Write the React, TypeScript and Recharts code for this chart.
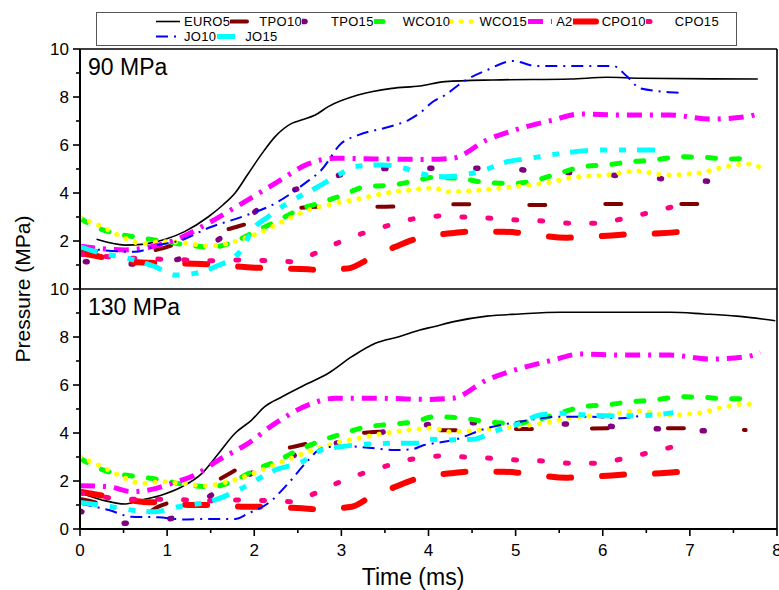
import React from 'react';
import { LineChart, Line, XAxis, YAxis, ReferenceLine } from 'recharts';

// ---------- data ----------
const seriesNames = ['EURO5', 'TPO10', 'TPO15', 'WCO10', 'WCO15', 'A2', 'CPO10', 'CPO15', 'JO10', 'JO15'];
const xTickValues = [0, 0.5, 1, 1.5, 2, 2.5, 3, 3.5, 4, 4.5, 5, 5.5, 6, 6.5, 7, 7.5, 8];
const yTickValuesTop = [1, 2, 3, 4, 5, 6, 7, 8, 9, 10];
const yTickValuesBottom = [0, 1, 2, 3, 4, 5, 6, 7, 8, 9, 10];
const panelTitles = ['90 MPa', '130 MPa'];

// 90 MPa panel  [time ms, pressure MPa]
const top_EURO5 = [[0.19,2.07],[0.52,1.83],[0.71,1.86],[0.98,2.07],[1.2,2.39],[1.47,3.0],[1.64,3.5],[1.78,4.0],[1.93,4.8],[2.09,5.65],[2.24,6.35],[2.43,6.9],[2.55,7.05],[2.7,7.25],[2.85,7.6],[3.19,8.08],[3.58,8.36],[3.9,8.46],[4.19,8.64],[4.74,8.71],[5.63,8.75],[6.05,8.82],[6.43,8.78],[7.78,8.75]];
const top_TPO10 = [[0,1.65],[0.3,1.55],[0.6,1.5],[0.9,1.65],[1.17,1.97],[1.45,2.3],[1.74,2.53],[1.95,2.76],[2.2,3.1],[2.5,3.37],[2.73,3.43],[3.5,3.43],[4.38,3.53],[5.2,3.5],[6.12,3.54],[7.1,3.54]];
const top_TPO15 = [[0.06,1.14],[0.59,1.04],[1.09,1.21],[1.51,1.87],[1.86,2.8],[2.2,3.71],[2.66,4.37],[3.16,4.89],[3.64,5.03],[4.17,5.03],[4.71,5.03],[5.22,4.93],[5.74,4.82],[6.24,4.71],[6.79,4.57],[7.33,4.47]];
const top_WCO10 = [[0,2.95],[0.17,2.6],[0.4,2.32],[0.67,2.15],[0.94,2.0],[1.24,1.83],[1.51,1.74],[1.74,1.93],[2.01,2.39],[2.28,2.87],[2.55,3.36],[2.77,3.6],[3.04,3.95],[3.27,4.26],[3.58,4.33],[3.85,4.51],[4.05,4.65],[4.36,4.61],[4.67,4.43],[4.97,4.4],[5.24,4.54],[5.47,4.79],[5.78,5.1],[6.05,5.17],[6.31,5.3],[6.58,5.37],[6.89,5.51],[7.15,5.49],[7.42,5.42],[7.69,5.45]];
const top_WCO15 = [[0,2.98],[0.25,2.6],[0.48,2.18],[0.71,1.9],[0.94,1.97],[1.2,1.93],[1.47,1.79],[1.7,1.9],[1.89,2.11],[2.09,2.39],[2.32,2.8],[2.62,3.29],[2.93,3.57],[3.23,3.78],[3.5,3.99],[3.77,4.12],[4.05,4.2],[4.25,4.05],[4.67,4.15],[4.97,4.26],[5.32,4.4],[5.66,4.65],[6.05,4.75],[6.39,4.92],[6.73,4.75],[7.08,4.82],[7.42,5.1],[7.65,5.21],[7.79,5.1]];
const top_A2 = [[0,1.78],[0.52,1.63],[0.82,1.76],[1.09,2.04],[1.47,2.74],[1.86,3.57],[2.24,4.4],[2.62,5.21],[2.93,5.45],[3.39,5.42],[3.98,5.4],[4.28,5.45],[4.67,6.21],[5.05,6.69],[5.43,7.04],[5.74,7.29],[6.2,7.25],[6.77,7.25],[7.23,7.08],[7.65,7.18],[7.81,7.35]];
const top_CPO10 = [[0,1.5],[0.33,1.28],[0.71,1.1],[1.4,1.04],[2.01,0.89],[2.62,0.82],[2.75,0.79],[3.08,0.86],[3.31,1.24],[3.62,1.76],[3.88,2.11],[4.25,2.32],[4.48,2.39],[4.86,2.39],[5.09,2.32],[5.59,2.14],[6.05,2.22],[6.35,2.29],[6.66,2.32],[6.91,2.39]];
const top_CPO15 = [[0,1.45],[0.5,1.3],[0.96,1.24],[1.24,1.21],[1.55,1.18],[1.86,1.21],[2.14,1.18],[2.43,1.14],[2.7,1.49],[2.99,1.97],[3.27,2.35],[3.56,2.67],[3.85,2.94],[4.15,3.04],[4.46,2.99],[4.75,2.94],[5.04,2.87],[5.34,2.83],[5.64,2.74],[5.93,2.74],[6.22,2.92],[6.53,3.18],[6.81,3.43]];
const top_JO10 = [[0,1.72],[0.63,1.55],[0.9,1.83],[1.17,2.04],[1.47,2.54],[1.86,3.01],[2.24,3.57],[2.58,4.4],[2.77,4.96],[3.0,6.07],[3.2,6.42],[3.58,6.79],[3.77,7.04],[3.9,7.33],[4.05,7.8],[4.19,8.08],[4.4,8.64],[4.67,9.12],[4.97,9.5],[5.24,9.29],[5.74,9.29],[6.12,9.29],[6.28,8.85],[6.43,8.36],[6.87,8.18]];
const top_JO15 = [[0,1.76],[0.25,1.49],[0.59,1.24],[0.86,0.93],[1.09,0.58],[1.32,0.65],[1.55,0.93],[1.82,1.49],[2.01,2.6],[2.16,3.01],[2.32,3.43],[2.73,4.26],[3.0,4.82],[3.16,5.1],[3.46,5.17],[3.73,5.03],[3.9,4.82],[4.17,4.68],[4.67,4.99],[4.86,5.26],[5.17,5.45],[5.63,5.7],[5.93,5.79],[6.39,5.79],[6.73,5.79]];

// 130 MPa panel
const bot_EURO5 = [[0,1.5],[0.25,1.21],[0.52,1.04],[0.71,1.21],[0.94,1.42],[1.17,1.76],[1.4,2.32],[1.59,3.15],[1.78,3.99],[1.97,4.54],[2.12,5.1],[2.32,5.51],[2.62,6.07],[2.85,6.49],[3.12,7.18],[3.39,7.74],[3.66,8.01],[3.9,8.29],[4.06,8.43],[4.29,8.64],[4.67,8.87],[5.05,8.96],[5.51,9.03],[6.2,9.03],[6.77,9.03],[7.16,8.96],[7.54,8.87],[7.98,8.68]];
const bot_TPO10 = [[0,1.25],[0.33,0.93],[0.52,0.58],[0.75,0.65],[0.9,0.93],[1.17,1.28],[1.55,1.97],[1.86,2.6],[2.2,3.18],[2.62,3.57],[3.0,3.96],[3.27,4.01],[3.69,4.1],[4.4,4.12],[4.97,4.17],[5.48,4.17],[6.16,4.2],[6.74,4.2],[7.14,4.2],[7.64,4.12]];
const bot_TPO15 = [[0,0.75],[0.55,0.24],[1.05,0.44],[1.55,1.5],[2.09,2.53],[2.47,3.08],[2.97,3.6],[3.41,3.99],[3.94,4.33],[4.52,4.43],[5.1,4.4],[5.68,4.37],[6.24,4.24],[6.79,4.15],[7.35,4.06]];
const bot_WCO10 = [[0,2.95],[0.17,2.6],[0.4,2.32],[0.67,2.18],[0.94,2.04],[1.17,1.87],[1.51,1.76],[1.74,1.97],[2.01,2.46],[2.28,2.87],[2.51,3.29],[2.74,3.64],[3.0,3.96],[3.27,4.24],[3.58,4.37],[3.85,4.47],[4.06,4.68],[4.4,4.61],[4.67,4.47],[4.97,4.4],[5.24,4.54],[5.47,4.79],[5.78,5.1],[6.05,5.17],[6.31,5.3],[6.58,5.37],[6.89,5.51],[7.15,5.49],[7.42,5.42],[7.69,5.45]];
const bot_WCO15 = [[0,3.01],[0.25,2.6],[0.48,2.18],[0.71,1.9],[0.94,1.97],[1.17,1.9],[1.43,1.8],[1.7,1.97],[2.09,2.46],[2.32,2.8],[2.62,3.22],[2.93,3.57],[3.2,3.78],[3.5,3.99],[3.77,4.12],[4.05,4.2],[4.25,4.05],[4.67,4.15],[4.97,4.26],[5.32,4.4],[5.66,4.65],[6.05,4.75],[6.39,4.92],[6.73,4.75],[7.08,4.82],[7.42,5.1],[7.65,5.21],[7.79,5.1]];
const bot_A2 = [[0,1.8],[0.33,1.76],[0.59,1.56],[0.82,1.65],[1.05,1.9],[1.32,2.25],[1.59,2.87],[1.93,3.57],[2.24,4.4],[2.62,5.17],[2.93,5.45],[3.39,5.45],[3.98,5.4],[4.28,5.45],[4.67,6.21],[5.05,6.69],[5.43,7.04],[5.74,7.29],[6.2,7.25],[6.77,7.25],[7.23,7.08],[7.65,7.18],[7.81,7.35]];
const bot_CPO10 = [[0,1.55],[0.33,1.35],[0.71,1.14],[0.94,1.1],[1.28,1.0],[1.51,1.0],[1.89,0.93],[2.16,0.93],[2.55,0.86],[2.74,0.82],[3.12,0.93],[3.31,1.28],[3.62,1.76],[3.88,2.11],[4.25,2.32],[4.48,2.39],[4.86,2.39],[5.09,2.32],[5.59,2.14],[6.05,2.22],[6.35,2.29],[6.66,2.32],[6.91,2.39]];
const bot_CPO15 = [[0,1.5],[0.59,1.24],[0.96,1.24],[1.24,1.21],[1.55,1.18],[1.86,1.21],[2.14,1.18],[2.43,1.14],[2.7,1.49],[2.99,1.97],[3.27,2.35],[3.56,2.67],[3.85,2.94],[4.15,3.04],[4.46,2.99],[4.75,2.94],[5.04,2.87],[5.34,2.83],[5.64,2.74],[5.93,2.74],[6.22,2.92],[6.53,3.18],[6.81,3.43]];
const bot_JO10 = [[0,1.05],[0.33,0.79],[0.59,0.51],[0.9,0.49],[1.17,0.4],[1.47,0.42],[1.78,0.42],[1.93,0.65],[2.16,1.07],[2.39,1.9],[2.62,2.87],[2.77,3.36],[3.0,3.46],[3.31,3.39],[3.62,3.29],[3.81,3.32],[3.95,3.5],[4.06,3.57],[4.29,3.71],[4.67,4.2],[5.05,4.47],[5.51,4.68],[5.82,4.68],[6.2,4.61],[6.47,4.75]];
const bot_JO15 = [[0,1.1],[0.36,0.93],[0.59,0.79],[0.86,0.72],[1.13,0.93],[1.55,1.21],[1.86,1.7],[2.24,2.46],[2.55,2.8],[2.77,3.29],[3.0,3.43],[3.31,3.54],[3.62,3.57],[3.89,3.57],[4.02,3.74],[4.21,3.71],[4.52,3.74],[4.75,4.06],[5.05,4.4],[5.28,4.75],[5.51,4.82],[5.82,4.75],[6.2,4.71],[6.58,4.75],[6.81,4.85]];

const topSeries = [top_EURO5, top_TPO10, top_TPO15, top_WCO10, top_WCO15, top_A2, top_CPO10, top_CPO15, top_JO10, top_JO15];
const botSeries = [bot_EURO5, bot_TPO10, bot_TPO15, bot_WCO10, bot_WCO15, bot_A2, bot_CPO10, bot_CPO15, bot_JO10, bot_JO15];

// ---------- styles ----------
const FONT = "Arial, 'Liberation Sans', sans-serif";
const styles: Record<string, { color: string; width: number; dash?: string; cap: 'round' | 'butt' }> = {
  EURO5: { color: '#000000', width: 1.6, cap: 'butt' },
  TPO10: { color: '#800000', width: 4, dash: '16 60', cap: 'round' },
  TPO15: { color: '#800080', width: 5.5, dash: '2 44', cap: 'round' },
  WCO10: { color: '#00FF00', width: 5, dash: '8 16', cap: 'round' },
  WCO15: { color: '#FFFF00', width: 5, dash: '0.1 10', cap: 'round' },
  A2: { color: '#FF00FF', width: 5, dash: '15 8 3 8', cap: 'butt' },
  CPO10: { color: '#FF0000', width: 6, dash: '22 31', cap: 'round' },
  CPO15: { color: '#FF0080', width: 5, dash: '3 23', cap: 'round' },
  JO10: { color: '#0000FF', width: 2, dash: '12 6 2 6', cap: 'butt' },
  JO15: { color: '#00FFFF', width: 5, dash: '18 12 7 12 7 11', cap: 'butt' },
};

const toPts = (arr: number[][]) => arr.map(([t, p]) => ({ t, p }));

const makeYTick = (showLabels: boolean) => (props: any) => {
  const { x, y, payload } = props;
  const v = payload.value;
  const major = v % 2 === 0;
  return (
    <g>
      <line x1={x - (major ? 7 : 4)} x2={x} y1={y} y2={y} stroke="#000" strokeWidth={1.6} />
      {major && showLabels && (
        <text x={x - 11} y={y} dy="0.36em" textAnchor="end" fontSize={17} fontFamily={FONT} fill="#000">
          {v}
        </text>
      )}
    </g>
  );
};

const XTick = (props: any) => {
  const { x, y, payload } = props;
  const v = payload.value;
  const major = Number.isInteger(v);
  return (
    <g>
      <line x1={x} x2={x} y1={y} y2={y + (major ? 7 : 4)} stroke="#000" strokeWidth={1.6} />
      {major && (
        <text x={x} y={y + 27} textAnchor="middle" fontSize={17} fontFamily={FONT} fill="#000">
          {v}
        </text>
      )}
    </g>
  );
};

const renderLines = (series: number[][][], prefix: string) =>
  series.map((arr, i) => {
    const name = seriesNames[i];
    const s = styles[name];
    return (
      <Line
        key={prefix + name}
        data={toPts(arr)}
        dataKey="p"
        name={name}
        type="monotone"
        stroke={s.color}
        strokeWidth={s.width}
        strokeDasharray={s.dash}
        strokeLinecap={s.cap}
        dot={false}
        activeDot={false}
        isAnimationActive={false}
      />
    );
  });

const W = 779;
const H = 590;

const Legend = () => (
  <div
    style={{
      position: 'absolute',
      left: 96,
      top: 12,
      width: 641,
      height: 34,
      border: '1.5px solid #555',
      boxSizing: 'border-box',
      paddingLeft: 58,
      paddingTop: 1,
      display: 'flex',
      flexWrap: 'wrap',
      alignContent: 'flex-start',
      fontFamily: FONT,
      fontSize: 13,
      lineHeight: '15px',
      color: '#000',
    }}
  >
    {seriesNames.map((name) => {
      const s = styles[name];
      return (
        <div key={name} style={{ display: 'flex', alignItems: 'center', height: 15 }}>
          <svg width={29} height={15}>
            <line x1={1} x2={25} y1={7.5} y2={7.5} stroke={s.color} strokeWidth={s.width} strokeDasharray={s.dash} strokeLinecap={s.cap} />
          </svg>
          <span style={{ letterSpacing: 0.3 }}>{name}</span>
        </div>
      );
    })}
  </div>
);

export default function App() {
  return (
    <div style={{ position: 'absolute', left: 0, top: 0, width: W, height: H, background: '#fff', overflow: 'hidden' }}>
      <Legend />
      <div style={{ position: 'absolute', left: 0, top: 0 }}>
        <LineChart width={W} height={H} margin={{ top: 49, right: 2, bottom: 301, left: 0 }}>
          <XAxis type="number" dataKey="t" domain={[0, 8]} ticks={xTickValues} hide allowDataOverflow />
          <YAxis
            type="number"
            domain={[0, 10]}
            ticks={yTickValuesTop}
            interval={0}
            width={80}
            allowDataOverflow
            axisLine={{ stroke: '#000', strokeWidth: 2 }}
            tickLine={false}
            tickSize={0}
            tickMargin={0}
            tick={makeYTick(true)}
          />
          <ReferenceLine y={10} stroke="#000" strokeWidth={1.6} />
          <ReferenceLine x={8} stroke="#000" strokeWidth={1.6} />
          {renderLines(topSeries, 'top')}
        </LineChart>
      </div>
      <div style={{ position: 'absolute', left: 0, top: 0 }}>
        <LineChart width={W} height={H} margin={{ top: 289, right: 2, bottom: 0, left: 0 }}>
          <XAxis
            type="number"
            dataKey="t"
            domain={[0, 8]}
            ticks={xTickValues}
            interval={0}
            height={61}
            allowDataOverflow
            axisLine={{ stroke: '#000', strokeWidth: 2 }}
            tickLine={false}
            tickSize={0}
            tickMargin={0}
            tick={XTick}
          />
          <YAxis
            type="number"
            domain={[0, 10]}
            ticks={yTickValuesBottom}
            interval={0}
            width={80}
            allowDataOverflow
            axisLine={{ stroke: '#000', strokeWidth: 2 }}
            tickLine={false}
            tickSize={0}
            tickMargin={0}
            tick={makeYTick(true)}
          />
          <ReferenceLine y={10} stroke="#000" strokeWidth={1.6} />
          <ReferenceLine x={8} stroke="#000" strokeWidth={1.6} />
          {renderLines(botSeries, 'bot')}
        </LineChart>
      </div>
      <div style={{ position: 'absolute', left: 88, top: 54, fontFamily: FONT, fontSize: 23, color: '#000', whiteSpace: 'nowrap' }}>
        {panelTitles[0]}
      </div>
      <div style={{ position: 'absolute', left: 88, top: 294, fontFamily: FONT, fontSize: 23, color: '#000', whiteSpace: 'nowrap' }}>
        {panelTitles[1]}
      </div>
      <div
        style={{
          position: 'absolute',
          left: 23,
          top: 289,
          transform: 'translate(-50%, -50%) rotate(-90deg)',
          fontFamily: FONT,
          fontSize: 21,
          color: '#000',
          whiteSpace: 'nowrap',
        }}
      >
        Pressure (MPa)
      </div>
      <div
        style={{
          position: 'absolute',
          left: 413,
          top: 577,
          transform: 'translate(-50%, -50%)',
          fontFamily: FONT,
          fontSize: 23,
          color: '#000',
          whiteSpace: 'nowrap',
        }}
      >
        Time (ms)
      </div>
    </div>
  );
}
